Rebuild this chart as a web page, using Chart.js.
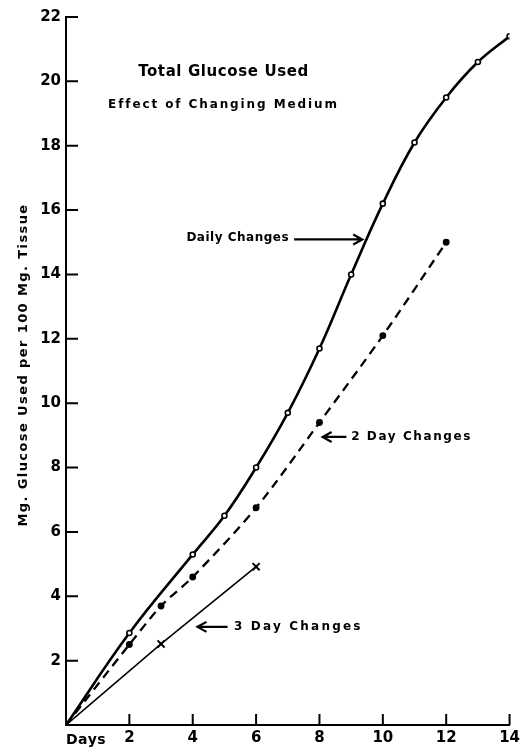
<!DOCTYPE html>
<html>
<head>
<meta charset="utf-8">
<script src="https://cdn.jsdelivr.net/npm/chart.js@4.4.1/dist/chart.umd.min.js"></script>
<style>
  html, body { margin: 0; padding: 0; background: #fff; }
  #wrap { width: 524px; height: 748px; }
</style>
</head>
<body>
<div id="wrap"><canvas id="c" width="524" height="748"></canvas></div>
<script>
// ---- data ----
const dailyDays   = [0, 2, 4, 5, 6, 7, 8, 9, 10, 11, 12, 13, 14];
const dailyValues = [0, 2.86, 5.3, 6.5, 8.0, 9.7, 11.7, 14.0, 16.2, 18.1, 19.5, 20.6, 21.4];

const twoDayDays   = [0, 2, 3, 4, 6, 8, 10, 12];
const twoDayValues = [0, 2.5, 3.7, 4.6, 6.75, 9.4, 12.1, 15.0];

const threeDayDays   = [0, 3, 6];
const threeDayValues = [0, 2.52, 4.92];

const xTickValues = [2, 4, 6, 8, 10, 12, 14];
const yTickValues = [2, 4, 6, 8, 10, 12, 14, 16, 18, 20, 22];

const titleText    = "Total Glucose Used";
const subtitleText = "Effect of Changing Medium";
const yAxisTitle   = "Mg. Glucose Used per 100 Mg. Tissue";
const xAxisWord    = "Days";

// annotation labels: text, position in data units (day, value), arrow from/to in days
const notes = [
  { text: "Daily Changes", x: 3.8,  y: 15.15, arrowFrom: 7.2,  arrowTo: 9.35, dir: "right", spacing: 0.5 },
  { text: "2 Day Changes", x: 9.0,  y: 8.95,  arrowFrom: 8.85, arrowTo: 8.1,  dir: "left",  spacing: 1.6 },
  { text: "3 Day Changes", x: 5.3,  y: 3.05,  arrowFrom: 5.1,  arrowTo: 4.15, dir: "left",  spacing: 2.2 }
];

const toXY = (xs, ys) => xs.map((x, i) => ({ x: x, y: ys[i] }));

const FONT = "'DejaVu Sans', sans-serif";

const decor = {
  id: 'decor',
  afterDatasetsDraw(chart) {
    const ctx = chart.ctx;
    const xs = chart.scales.x, ys = chart.scales.y;
    const area = chart.chartArea;
    ctx.save();
    // inward tick marks
    ctx.strokeStyle = '#000';
    ctx.lineWidth = 2;
    ctx.beginPath();
    yTickValues.forEach(v => {
      const py = ys.getPixelForValue(v);
      ctx.moveTo(area.left, py);
      ctx.lineTo(area.left + 12, py);
    });
    xTickValues.forEach(v => {
      const px = xs.getPixelForValue(v);
      ctx.moveTo(px, area.bottom);
      ctx.lineTo(px, area.bottom - 11);
    });
    ctx.stroke();

    ctx.fillStyle = '#000';
    ctx.textBaseline = 'middle';
    // titles
    ctx.textAlign = 'center';
    ctx.font = "bold 15px " + FONT;
    ctx.letterSpacing = '0.6px';
    ctx.fillText(titleText, xs.getPixelForValue(4.97), ys.getPixelForValue(20.3));
    ctx.font = "bold 12px " + FONT;
    ctx.letterSpacing = '1.9px';
    ctx.fillText(subtitleText, xs.getPixelForValue(4.97), ys.getPixelForValue(19.28));

    // y axis title (rotated)
    ctx.save();
    ctx.translate(24, (area.top + area.bottom) / 2 - 6);
    ctx.rotate(-Math.PI / 2);
    ctx.font = "bold 13px " + FONT;
    ctx.letterSpacing = '1.4px';
    ctx.textAlign = 'center';
    ctx.fillText(yAxisTitle, 0, 0);
    ctx.restore();

    // Days word
    ctx.textAlign = 'left';
    ctx.textBaseline = 'top';
    ctx.font = "bold 14px " + FONT;
    ctx.letterSpacing = '0.5px';
    ctx.fillText(xAxisWord, area.left, area.bottom + 8);

    // notes
    ctx.textBaseline = 'middle';
    notes.forEach(n => {
      const py = ys.getPixelForValue(n.y);
      ctx.font = "bold 12px " + FONT;
      ctx.letterSpacing = n.spacing + 'px';
      ctx.textAlign = 'left';
      ctx.fillText(n.text, xs.getPixelForValue(n.x), py);
      const a = xs.getPixelForValue(n.arrowFrom);
      const b = xs.getPixelForValue(n.arrowTo);
      const ay = py + (n.dir === 'right' ? 2 : 0);
      ctx.lineWidth = 2.2;
      ctx.beginPath();
      ctx.moveTo(a, ay);
      ctx.lineTo(b, ay);
      const d = n.dir === 'right' ? -1 : 1;
      ctx.moveTo(b + d * 9, ay - 5);
      ctx.lineTo(b, ay);
      ctx.lineTo(b + d * 9, ay + 5);
      ctx.stroke();
    });
    ctx.restore();
  }
};

new Chart(document.getElementById('c'), {
  type: 'line',
  data: {
    datasets: [
      {
        label: 'Daily Changes',
        data: toXY(dailyDays, dailyValues),
        borderColor: '#000',
        borderWidth: 2.6,
        tension: 0.4,
        pointRadius: [0, 2.5, 2.5, 2.5, 2.5, 2.5, 2.5, 2.5, 2.5, 2.5, 2.5, 2.5, 2.5],
        pointBorderWidth: 1.6,
        pointBackgroundColor: '#fff',
        pointBorderColor: '#000',
        fill: false
      },
      {
        label: '2 Day Changes',
        data: toXY(twoDayDays, twoDayValues),
        borderColor: '#000',
        borderWidth: 2.3,
        borderDash: [9, 6],
        tension: 0.3,
        pointRadius: [0, 2.3, 2.3, 2.3, 2.3, 2.3, 2.3, 2.3],
        pointBackgroundColor: '#000',
        pointBorderColor: '#000',
        fill: false
      },
      {
        label: '3 Day Changes',
        data: toXY(threeDayDays, threeDayValues),
        borderColor: '#000',
        borderWidth: 1.6,
        tension: 0,
        pointStyle: 'crossRot',
        pointRadius: [0, 5, 5],
        pointBorderWidth: 2,
        pointBorderColor: '#000',
        fill: false
      }
    ]
  },
  options: {
    responsive: false,
    animation: false,
    devicePixelRatio: 1,
    layout: { padding: { top: 17, right: 13, left: 0, bottom: 0 } },
    plugins: { legend: { display: false }, tooltip: { enabled: false } },
    elements: { point: { hoverRadius: 3 } },
    scales: {
      x: {
        type: 'linear',
        min: 0, max: 14,
        grid: { display: false, drawTicks: false },
        border: { display: true, color: '#000', width: 2 },
        ticks: {
          stepSize: 2,
          autoSkip: false,
          padding: 4,
          color: '#000',
          font: { family: FONT, size: 15, weight: 'bold' },
          callback: v => (v === 0 ? '' : v)
        },
        afterFit: s => { s.height = 23; }
      },
      y: {
        min: 0, max: 22,
        grid: { display: false, drawTicks: false },
        border: { display: true, color: '#000', width: 2 },
        ticks: {
          stepSize: 2,
          padding: 5,
          color: '#000',
          font: { family: FONT, size: 15, weight: 'bold' },
          callback: v => (v === 0 ? '' : v)
        },
        afterFit: s => { s.width = 66; }
      }
    }
  },
  plugins: [decor]
});
</script>
</body>
</html>
